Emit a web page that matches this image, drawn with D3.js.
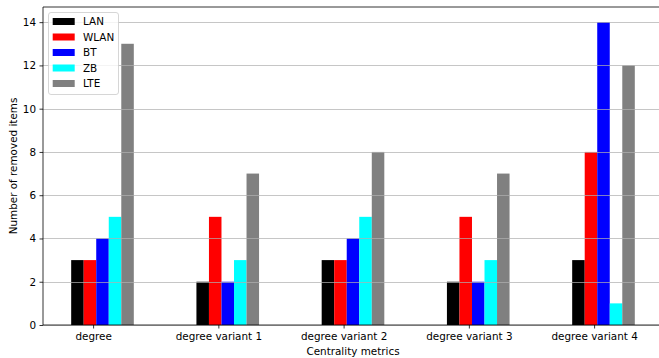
<!DOCTYPE html>
<html><head><meta charset="utf-8">
<script src="https://cdn.jsdelivr.net/npm/d3@7"></script>
<style>
html,body{margin:0;padding:0;background:#fff;overflow:hidden;}
text{font-family:"DejaVu Sans",sans-serif;fill:#000;}
</style></head>
<body>
<svg id="chart" width="659" height="358"></svg>
<script>
const categories = ["degree","degree variant 1","degree variant 2","degree variant 3","degree variant 4"];
const seriesNames = ["LAN","WLAN","BT","ZB","LTE"];
const seriesColors = ["#000000","#ff0000","#0000ff","#00ffff","#808080"];
const LAN  = [3,2,3,2,3];
const WLAN = [3,5,3,5,8];
const BT   = [4,2,4,2,14];
const ZB   = [5,3,5,3,1];
const LTE  = [13,7,8,7,12];
const yTicks = [0,2,4,6,8,10,12,14];
const seriesValues = [LAN,WLAN,BT,ZB,LTE];

(function(){
const FS = "10.4px";
const svg = d3.select("#chart");
const pLeft = 43, pTop = 7, pBottom = 325;
const barW = 0.1;
const x = d3.scaleLinear().domain([-0.275, 4.675]).range([pLeft, pLeft + 4.95*125.25]);
const y = d3.scaleLinear().domain([0, 14.7]).range([pBottom, pTop]);
const pRight = x(4.675);

// bars
seriesValues.forEach((vals, k) => {
  svg.append("g").selectAll("rect").data(vals).enter().append("rect")
    .attr("x", (d,i) => x(i - barW/2 + k*barW))
    .attr("width", (d,i) => x(i + barW/2 + k*barW) - x(i - barW/2 + k*barW))
    .attr("y", d => y(d))
    .attr("height", d => y(0) - y(d))
    .attr("fill", seriesColors[k]);
});

// grid on top
svg.append("g").selectAll("line").data(yTicks).enter().append("line")
  .attr("x1", pLeft).attr("x2", pRight)
  .attr("y1", d => Math.round(y(d))+0.5).attr("y2", d => Math.round(y(d))+0.5)
  .attr("stroke", "#b0b0b0").attr("stroke-width", 0.8).attr("stroke-opacity", 0.9);

// y axis
const yAxis = d3.axisLeft(y).tickValues(yTicks).tickSize(3.5).tickPadding(3.5);
const gy = svg.append("g").attr("transform", `translate(${pLeft},0)`).call(yAxis);
gy.select(".domain").remove();
gy.selectAll("line").attr("stroke","#000").attr("stroke-width",0.8);
gy.selectAll("text").style("font-size",FS).attr("fill","#000");

// x axis
const xAxis = d3.axisBottom(x).tickValues(d3.range(categories.length).map(i => i + 0.125))
  .tickFormat((d,i) => categories[i]).tickSize(3.5).tickPadding(4.5);
const gx = svg.append("g").attr("transform", `translate(0,${pBottom})`).call(xAxis);
gx.select(".domain").remove();
gx.selectAll("line").attr("stroke","#000").attr("stroke-width",0.8);
gx.selectAll("text").style("font-size",FS).attr("fill","#000");

// spines
svg.append("line").attr("x1",pLeft).attr("x2",pLeft).attr("y1",pTop).attr("y2",pBottom).attr("stroke","#000").attr("stroke-width",0.8);
svg.append("line").attr("x1",pLeft).attr("x2",pRight).attr("y1",pBottom).attr("y2",pBottom).attr("stroke","#000").attr("stroke-width",0.8);
svg.append("line").attr("x1",pLeft).attr("x2",pRight).attr("y1",pTop).attr("y2",pTop).attr("stroke","#000").attr("stroke-width",0.8);

// axis titles
svg.append("text").attr("x", (pLeft+pRight)/2).attr("y", 355).attr("text-anchor","middle")
  .style("font-size",FS).text("Centrality metrics");
svg.append("text").attr("transform", `translate(16.5,${(pTop+pBottom)/2}) rotate(-90)`).attr("text-anchor","middle")
  .style("font-size",FS).text("Number of removed items");

// legend
const lg = svg.append("g");
lg.append("rect").attr("x",48.5).attr("y",12.5).attr("width",70).attr("height",82).attr("rx",2.5)
  .attr("fill","#fff").attr("fill-opacity",0.8).attr("stroke","#cccccc").attr("stroke-width",0.8);
seriesNames.forEach((n,k) => {
  const cy = 21.5 + k*15.5;
  lg.append("rect").attr("x",52.7).attr("y",cy-3.5).attr("width",22).attr("height",7).attr("fill",seriesColors[k]);
  lg.append("text").attr("x",83).attr("y",cy+3.8).style("font-size",FS).text(n);
});
})();
</script>
</body></html>
